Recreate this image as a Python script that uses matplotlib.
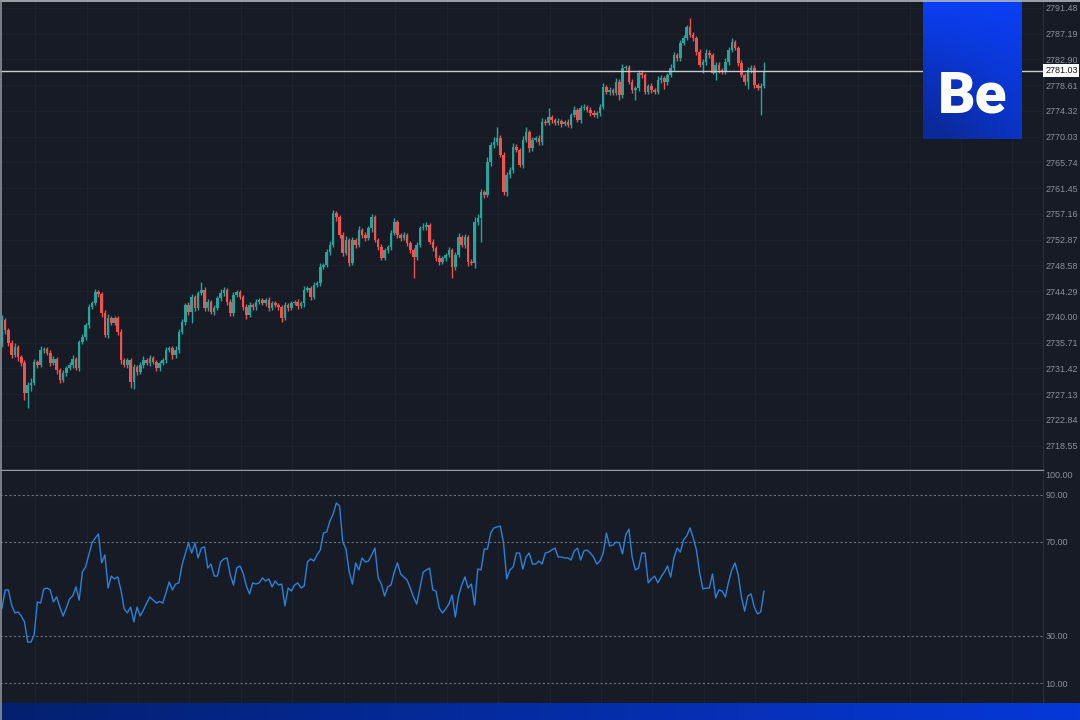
import numpy as np
import matplotlib
matplotlib.use('Agg')
import matplotlib.pyplot as plt
from matplotlib.colors import LinearSegmentedColormap
from matplotlib.lines import Line2D
import matplotlib.transforms as mtrans

# 数据 -------------------------------------------------------------
first_open = 2735.5
closes = [
    2739.5, 2737.8, 2735.6, 2733.6, 2735.0, 2733.3, 2732.3, 2727.3, 2728.6, 2729.0,
    2732.5, 2732.0, 2734.5, 2734.6, 2734.0, 2732.3, 2733.0, 2731.1, 2729.5, 2730.6,
    2731.5, 2732.0, 2733.0, 2731.5, 2735.8, 2736.6, 2738.6, 2741.6, 2742.3, 2744.1,
    2743.8, 2740.6, 2737.0, 2739.8, 2739.0, 2739.8, 2737.5, 2732.8, 2732.0, 2732.8,
    2729.1, 2731.6, 2730.8, 2732.0, 2732.8, 2732.3, 2733.1, 2732.5, 2731.5, 2732.3,
    2732.8, 2734.5, 2734.8, 2733.6, 2734.5, 2737.5, 2739.1, 2742.0, 2740.8, 2743.3,
    2741.5, 2744.0, 2744.5, 2741.5, 2742.5, 2740.8, 2741.5, 2743.1, 2744.0, 2744.5,
    2742.5, 2740.6, 2743.6, 2744.1, 2743.3, 2741.6, 2740.3, 2742.0, 2741.6, 2742.5,
    2742.8, 2742.3, 2742.8, 2741.5, 2742.3, 2742.0, 2741.6, 2739.8, 2742.0, 2741.5,
    2742.3, 2742.5, 2741.8, 2742.3, 2744.5, 2744.8, 2743.3, 2745.3, 2745.6, 2748.3,
    2748.6, 2750.8, 2752.0, 2757.3, 2756.6, 2753.6, 2750.6, 2752.8, 2749.0, 2752.8,
    2752.0, 2754.5, 2753.6, 2753.1, 2754.8, 2756.6, 2752.8, 2751.6, 2749.8, 2751.1,
    2751.6, 2754.0, 2755.8, 2753.6, 2753.1, 2753.6, 2752.3, 2751.1, 2750.0, 2752.0,
    2754.8, 2755.0, 2755.3, 2752.5, 2751.5, 2749.8, 2749.1, 2749.8, 2750.3, 2751.1,
    2748.3, 2750.3, 2753.3, 2752.0, 2753.3, 2749.1, 2749.0, 2755.8, 2756.5, 2760.8,
    2760.3, 2765.8, 2768.6, 2769.1, 2769.8, 2767.0, 2760.8, 2763.6, 2764.5, 2768.3,
    2767.8, 2765.3, 2769.5, 2770.8, 2768.1, 2769.5, 2769.8, 2769.1, 2772.5, 2772.3,
    2773.3, 2772.8, 2772.3, 2772.6, 2772.1, 2772.5, 2772.0, 2773.6, 2774.5, 2772.8,
    2774.8, 2775.0, 2774.5, 2774.0, 2773.6, 2774.0, 2775.0, 2778.3, 2777.5, 2777.8,
    2777.3, 2779.1, 2777.0, 2781.5, 2781.6, 2779.1, 2777.8, 2778.1, 2780.6, 2780.3,
    2777.5, 2778.5, 2777.8, 2777.5, 2779.5, 2779.8, 2779.1, 2780.3, 2781.5, 2783.6,
    2783.1, 2785.6, 2786.5, 2788.3, 2787.0, 2786.5, 2784.1, 2782.0, 2782.5, 2784.0,
    2783.6, 2780.6, 2782.0, 2781.1, 2780.8, 2782.5, 2784.5, 2785.8, 2784.8, 2782.3,
    2780.3, 2779.1, 2781.1, 2781.5, 2778.6, 2778.1, 2778.5, 2781.03,
]
upper_wick = [
    0.8, 0.3, 0.4, 0.5, 0.6, 0.3, 0.4, 0.5, 0.6, 0.8,
    0.5, 0.3, 0.6, 0.4, 0.3, 0.5, 0.4, 0.3, 0.4, 0.5,
    0.3, 0.4, 0.6, 0.3, 0.4, 0.5, 0.3, 0.6, 0.4, 0.5,
    0.4, 0.3, 0.5, 0.6, 0.3, 0.4, 0.3, 0.5, 0.4, 0.3,
    0.4, 0.5, 0.3, 0.4, 0.6, 0.3, 0.5, 0.4, 0.3, 0.4,
    0.3, 0.5, 0.4, 0.3, 0.6, 0.4, 0.5, 0.3, 0.4, 0.5,
    0.4, 0.3, 1.3, 0.5, 0.4, 0.3, 0.5, 0.4, 0.6, 0.5,
    0.3, 0.4, 0.5, 0.3, 0.4, 0.3, 0.5, 0.4, 0.3, 0.5,
    0.4, 0.3, 0.4, 0.5, 0.3, 0.4, 0.3, 0.4, 0.5, 0.3,
    0.4, 0.3, 0.5, 0.4, 0.6, 0.4, 0.3, 0.5, 0.4, 0.6,
    0.4, 0.5, 0.6, 0.5, 0.3, 0.4, 0.5, 0.6, 0.3, 0.5,
    0.4, 0.6, 0.3, 0.5, 0.4, 0.6, 0.3, 0.4, 0.5, 0.3,
    0.4, 0.5, 0.6, 0.3, 0.4, 0.5, 0.3, 0.4, 0.3, 0.5,
    0.4, 0.6, 0.5, 0.3, 0.4, 0.3, 0.5, 0.4, 0.3, 0.6,
    0.4, 0.5, 0.6, 0.3, 0.5, 0.4, 0.6, 0.8, 0.6, 0.5,
    0.4, 0.8, 0.6, 0.9, 1.8, 0.5, 0.4, 0.6, 0.5, 0.7,
    0.5, 0.4, 0.6, 0.8, 0.4, 0.5, 0.3, 0.5, 0.6, 0.4,
    1.5, 0.4, 0.3, 0.5, 0.4, 0.3, 0.5, 0.4, 0.6, 0.3,
    0.5, 0.4, 0.3, 0.5, 0.4, 0.3, 0.4, 0.6, 0.4, 0.5,
    0.4, 0.7, 0.5, 0.6, 0.4, 0.3, 0.5, 0.4, 0.6, 0.5,
    0.4, 0.3, 0.5, 0.4, 0.6, 0.5, 0.3, 0.4, 0.6, 0.5,
    0.4, 0.6, 0.5, 0.3, 1.5, 0.4, 0.3, 0.5, 0.4, 0.6,
    0.5, 0.3, 0.4, 0.5, 0.3, 0.6, 0.5, 0.7, 0.4, 0.3,
    0.5, 0.4, 0.6, 0.5, 0.4, 0.3, 0.5, 1.4,
]
lower_wick = [
    0.5, 0.6, 0.4, 0.5, 0.3, 0.6, 0.5, 1.2, 2.5, 1.0,
    0.4, 0.5, 0.3, 0.6, 0.4, 0.5, 0.3, 0.6, 0.5, 0.4,
    0.5, 0.3, 0.6, 0.4, 0.5, 0.3, 0.4, 0.5, 0.3, 0.4,
    0.5, 0.6, 0.4, 0.5, 0.3, 0.4, 0.5, 0.6, 0.4, 0.5,
    1.0, 1.2, 0.5, 0.4, 0.6, 0.3, 0.5, 0.4, 0.6, 0.5,
    0.4, 0.5, 0.3, 0.6, 0.4, 0.5, 0.3, 0.4, 0.5, 1.8,
    0.5, 0.4, 0.3, 0.5, 0.6, 0.4, 0.5, 0.3, 0.4, 0.5,
    0.6, 0.4, 0.5, 0.3, 0.4, 0.5, 0.6, 0.3, 0.4, 0.5,
    0.3, 0.4, 0.5, 0.6, 0.3, 0.4, 0.5, 0.6, 0.4, 0.5,
    0.3, 0.4, 0.5, 0.3, 0.6, 0.4, 0.5, 0.4, 0.3, 0.5,
    0.4, 0.3, 0.5, 0.4, 0.6, 0.5, 0.4, 0.3, 0.5, 0.4,
    0.5, 0.3, 0.4, 0.5, 0.3, 0.6, 0.4, 0.5, 0.3, 0.4,
    0.5, 0.4, 0.3, 0.5, 0.4, 0.3, 0.5, 0.4, 3.5, 0.5,
    0.4, 0.3, 0.5, 0.4, 0.6, 0.5, 0.4, 0.3, 0.5, 0.4,
    1.8, 0.5, 0.4, 0.3, 0.5, 0.6, 0.4, 0.8, 0.5, 4.0,
    0.5, 0.4, 0.6, 0.5, 0.4, 0.3, 0.5, 0.6, 0.4, 0.5,
    0.4, 0.3, 0.5, 0.4, 0.6, 0.5, 0.3, 0.4, 0.5, 0.3,
    0.4, 0.5, 0.3, 0.4, 0.5, 0.3, 0.4, 0.5, 0.3, 0.4,
    0.5, 0.3, 0.4, 0.5, 0.3, 0.4, 0.5, 0.3, 0.4, 0.5,
    0.3, 0.4, 0.8, 0.5, 0.4, 0.3, 0.5, 1.7, 0.4, 0.5,
    0.3, 0.4, 0.5, 0.3, 0.4, 0.5, 1.2, 0.4, 0.3, 0.5,
    0.4, 0.5, 0.3, 0.4, 0.3, 0.5, 0.4, 0.3, 1.3, 0.5,
    0.4, 0.2, 1.1, 0.5, 0.4, 0.3, 0.5, 0.4, 0.3, 0.5,
    0.4, 0.5, 1.2, 0.4, 0.5, 0.3, 4.5, 0.4,
]
rsi = [
    41.9, 49.6, 49.6, 43.2, 39.8, 40.2, 38.5, 36.0, 27.4, 27.4,
    30.4, 44.5, 44.0, 50.0, 50.4, 49.6, 44.5, 46.6, 42.3, 38.5,
    41.9, 45.7, 47.0, 50.9, 45.3, 57.2, 59.4, 64.5, 69.6, 71.7,
    73.4, 61.1, 64.5, 50.4, 55.5, 54.3, 55.1, 49.6, 41.5, 39.8,
    42.3, 36.0, 42.3, 38.5, 41.1, 44.0, 46.6, 45.3, 44.0, 44.7,
    44.0, 48.3, 53.0, 49.6, 52.1, 52.6, 60.2, 64.9, 69.6, 65.3,
    69.6, 63.2, 67.4, 67.9, 58.9, 60.6, 55.5, 55.5, 61.5, 62.8,
    63.2, 56.0, 51.7, 58.9, 59.8, 56.8, 51.3, 47.9, 52.6, 52.1,
    52.6, 54.7, 53.4, 54.3, 50.9, 53.4, 51.7, 52.1, 42.8, 50.4,
    49.1, 51.7, 52.6, 50.4, 51.3, 61.5, 62.8, 61.9, 64.5, 66.6,
    73.8, 74.3, 78.9, 81.9, 86.6, 85.3, 70.0, 67.0, 57.2, 52.1,
    61.1, 58.1, 63.2, 61.5, 61.9, 64.5, 67.4, 54.7, 52.1, 47.0,
    50.9, 51.7, 57.2, 61.1, 56.4, 55.1, 53.8, 50.4, 46.6, 43.6,
    50.4, 57.2, 58.1, 58.9, 49.6, 49.1, 41.9, 39.8, 41.5, 43.6,
    47.4, 38.1, 47.0, 51.7, 55.1, 50.4, 52.1, 43.2, 58.5, 58.1,
    67.0, 67.0, 73.8, 76.0, 76.4, 76.8, 69.6, 54.3, 58.1, 59.4,
    65.3, 65.3, 58.5, 63.6, 65.3, 60.6, 60.6, 61.9, 60.6, 65.3,
    65.7, 66.6, 67.4, 63.6, 63.6, 63.2, 63.2, 62.3, 66.2, 67.4,
    62.3, 66.2, 66.6, 65.3, 63.6, 60.6, 61.9, 65.3, 73.8, 68.3,
    68.7, 70.0, 69.6, 64.9, 73.0, 75.5, 63.6, 58.1, 58.9, 65.3,
    65.3, 52.6, 54.3, 55.5, 52.6, 55.1, 57.2, 59.8, 55.1, 63.2,
    67.4, 65.7, 70.9, 72.6, 76.0, 71.7, 66.6, 56.8, 50.0, 50.4,
    50.4, 56.4, 46.2, 49.6, 49.1, 46.6, 53.0, 58.1, 61.1, 56.0,
    46.6, 40.6, 47.0, 47.9, 42.3, 39.4, 40.2, 49.1,
]
price_ticks = [2791.48, 2787.19, 2782.90, 2778.61, 2774.32, 2770.03, 2765.74, 2761.45,
               2757.16, 2752.87, 2748.58, 2744.29, 2740.00, 2735.71, 2731.42, 2727.13,
               2722.84, 2718.55]
rsi_ticks = [0, 10, 30, 70, 90, 100]
rsi_levels = [90, 70, 30, 10]
last_price = 2781.03

# 样式 -------------------------------------------------------------
BG = '#171b26'
UP = '#26a69a'
DOWN = '#ef5350'
TXT = '#8c909a'
FONT = ['Liberation Sans', 'DejaVu Sans']

closes = np.array(closes)
opens = np.concatenate([[first_open], closes[:-1]])
highs = np.maximum(opens, closes) + np.array(upper_wick)
lows = np.minimum(opens, closes) - np.array(lower_wick)
idx = np.arange(len(closes))
cols = np.where(closes >= opens, UP, DOWN)

fig = plt.figure(figsize=(10.8, 7.2), dpi=100, facecolor=BG)
W, H = 1080, 720
ax = fig.add_axes([0, 1 - 470 / H, 1043 / W, 470 / H], facecolor=BG)
ax2 = fig.add_axes([0, 0, 1043 / W, 1 - 471 / H], facecolor=BG)

xl = (-0.62, 323.8)
grid_x = np.arange(10.3, 330, 16)

# K线
for a in (ax, ax2):
    for g in grid_x:
        a.axvline(g, color='#1e222e', lw=0.9, zorder=0)
ax.vlines(idx, lows, highs, colors=cols, lw=1.0, zorder=2)
body = np.maximum(np.abs(closes - opens), 0.15)
ax.bar(idx, body, bottom=np.minimum(opens, closes), width=0.8, color=cols, lw=0, zorder=3)
for p in price_ticks:
    ax.axhline(p, color='#1c202b', lw=0.8, zorder=0)
ax.axhline(last_price, color='#c9cbd1', lw=1.0, zorder=4)

ax.set_xlim(*xl)
ax.set_ylim(2714.48, 2792.81)
ax.yaxis.tick_right()
ax.set_yticks(price_ticks)
ax.set_yticklabels(['%.2f' % p for p in price_ticks], family=FONT)
ax.set_xticks([])
ax.tick_params(axis='y', length=0, pad=2, labelsize=6.5, colors=TXT)
for s in ['top', 'left']:
    ax.spines[s].set_visible(False)
ax.spines['right'].set_color('#2a2e39')
ax.spines['bottom'].set_color('#9a9da6')
ax.spines['bottom'].set_linewidth(1.0)

tr = mtrans.blended_transform_factory(ax.transAxes, ax.transData)
ax.text(1.002, last_price, '%.2f' % last_price, transform=tr, va='center', ha='left',
        fontsize=6.5, family=FONT, color='#131722', clip_on=False, zorder=10,
        bbox=dict(boxstyle='square,pad=0.2', fc='white', ec='none'))

# RSI
ax2.plot(idx, rsi, color='#2b82d9', lw=1.0, zorder=3)
for lv in rsi_levels:
    ax2.axhline(lv, color='#6d717c', lw=0.8, ls=(0, (2, 2)), zorder=1)
ax2.set_xlim(*xl)
ax2.set_ylim(-5.74, 100.2)
ax2.yaxis.tick_right()
ax2.set_yticks(rsi_ticks)
ax2.set_yticklabels(['%.2f' % v for v in rsi_ticks], family=FONT)
ax2.set_xticks([])
ax2.tick_params(axis='y', length=0, pad=2, labelsize=6.5, colors=TXT)
for lab, v in zip(ax2.get_yticklabels(), rsi_ticks):
    if v == 100:
        lab.set_va('top')
for s in ['top', 'left', 'bottom']:
    ax2.spines[s].set_visible(False)
ax2.spines['right'].set_color('#2a2e39')

# 边框线
fig.add_artist(Line2D([0, 1], [1 - 0.6 / H, 1 - 0.6 / H], color='#b5b8c0', lw=1.2))
fig.add_artist(Line2D([0.6 / W, 0.6 / W], [0, 1], color='#8d9099', lw=1.2))

# Behance 标志
axb = fig.add_axes([923 / W, 1 - 139 / H, 99 / W, 139 / H])
gy, gx = np.mgrid[0:1:140j, 0:1:100j]
shade = np.clip(0.55 * gy + 0.45 * (1 - gx) * gy * 1.4, 0, 1)
cmap_b = LinearSegmentedColormap.from_list('b', ['#0b3ff5', '#0a2a9c'])
axb.imshow(shade, cmap=cmap_b, aspect='auto', extent=(0, 1, 0, 1), origin='upper', vmin=0, vmax=1)
axb.text(0.5, 0.30, 'Be', color='white', fontsize=42, fontweight='black',
         family=['Roboto', 'DejaVu Sans'], ha='center', va='center', transform=axb.transAxes)
axb.set_axis_off()

# 底部蓝条
axs = fig.add_axes([0, 0, 1, 17 / H])
bar = np.linspace(0, 1, 200).reshape(1, -1)
cmap_s = LinearSegmentedColormap.from_list('s', ['#03206e', '#0638d8'])
axs.imshow(bar, cmap=cmap_s, aspect='auto', extent=(0, 1, 0, 1))
axs.set_axis_off()

fig.savefig('out.png', dpi=100, facecolor=BG)
